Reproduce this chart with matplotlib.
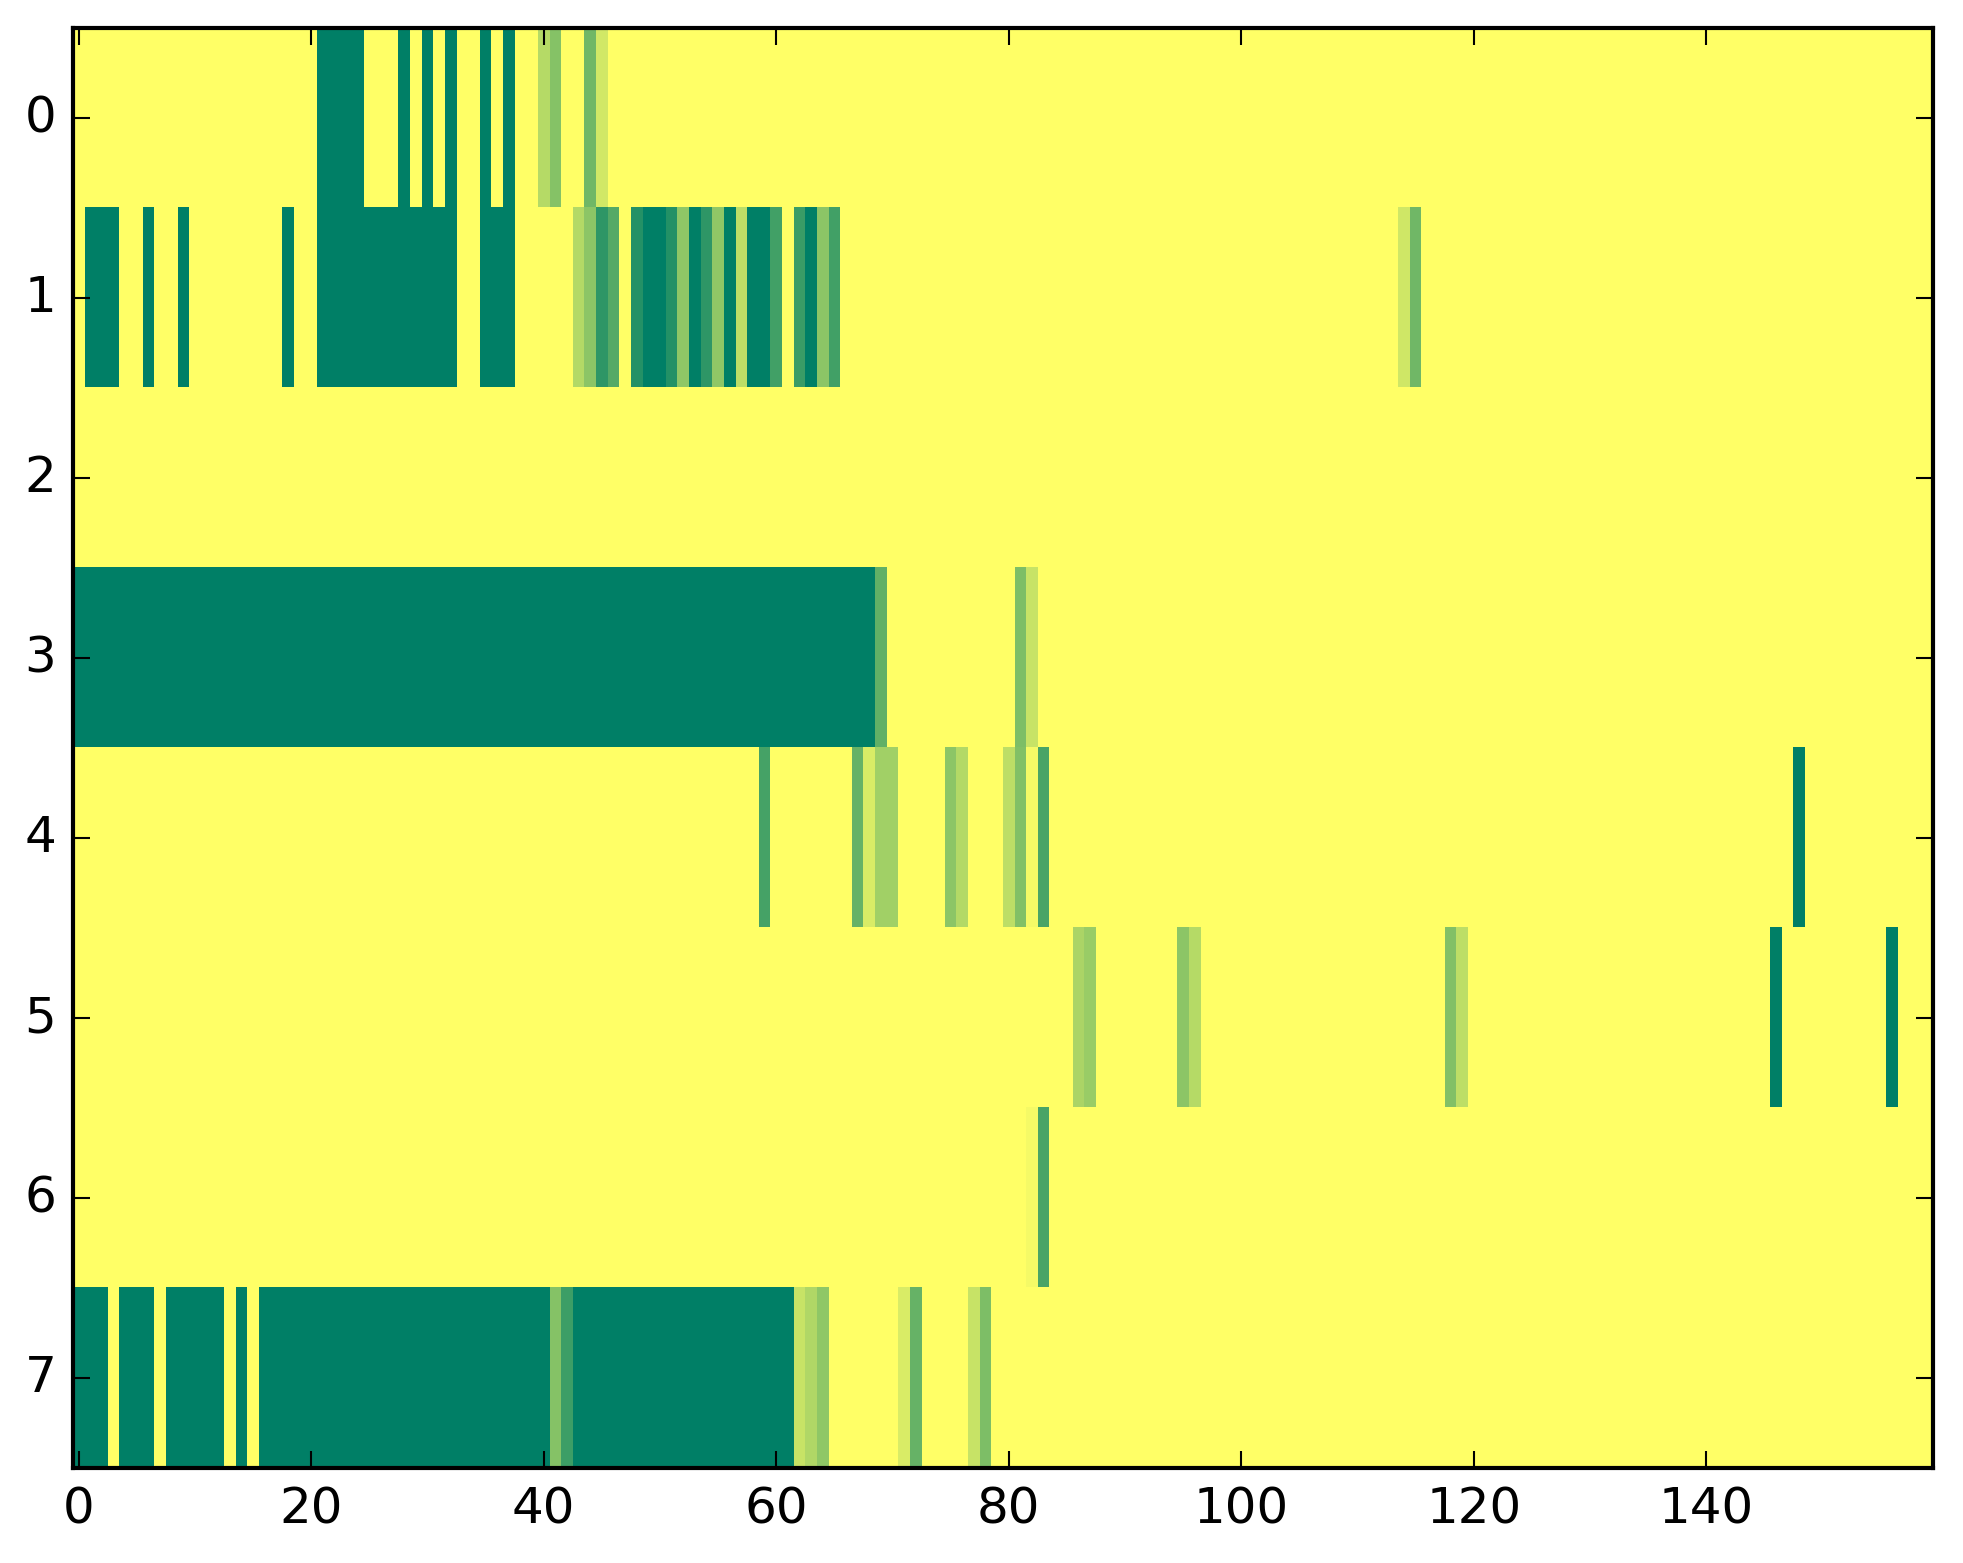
import numpy as np
import matplotlib
matplotlib.use("Agg")
import matplotlib.pyplot as plt

plt.style.use("classic")

n_cols = 160
n_rows = 8

# runs of (first column, last column, value); every other cell is 1.0
row0 = [(21, 24, 0.0), (28, 28, 0.0), (30, 30, 0.0), (32, 32, 0.0), (35, 35, 0.0),
        (37, 37, 0.0), (40, 40, 0.71), (41, 41, 0.52), (44, 44, 0.44), (45, 45, 0.82)]
row1 = [(1, 3, 0.0), (6, 6, 0.0), (9, 9, 0.0), (18, 18, 0.0), (21, 32, 0.0), (35, 37, 0.0),
        (43, 43, 0.70), (44, 44, 0.55), (45, 45, 0.18), (46, 46, 0.33), (48, 48, 0.14),
        (49, 50, 0.0), (51, 51, 0.14), (52, 52, 0.56), (53, 53, 0.0), (54, 54, 0.18),
        (55, 55, 0.56), (56, 56, 0.0), (57, 57, 0.74), (58, 59, 0.0), (60, 60, 0.26),
        (62, 62, 0.23), (63, 63, 0.0), (64, 64, 0.55), (65, 65, 0.26),
        (114, 114, 0.81), (115, 115, 0.44)]
row2 = []
row3 = [(0, 68, 0.0), (69, 69, 0.38), (81, 81, 0.49), (82, 82, 0.78)]
row4 = [(59, 59, 0.27), (67, 67, 0.40), (68, 68, 0.85), (69, 70, 0.63), (75, 75, 0.55),
        (76, 76, 0.70), (80, 80, 0.74), (81, 81, 0.51), (82, 82, 0.96), (83, 83, 0.29),
        (148, 148, 0.0)]
row5 = [(86, 86, 0.67), (87, 87, 0.60), (95, 95, 0.55), (96, 96, 0.71), (118, 118, 0.51),
        (119, 119, 0.74), (146, 146, 0.0), (156, 156, 0.0)]
row6 = [(82, 82, 0.96), (83, 83, 0.29)]
row7 = [(0, 2, 0.0), (4, 6, 0.0), (8, 12, 0.0), (14, 14, 0.0), (16, 40, 0.0),
        (41, 41, 0.52), (42, 42, 0.24), (43, 61, 0.0), (62, 62, 0.78), (63, 63, 0.69),
        (64, 64, 0.56), (71, 71, 0.85), (72, 72, 0.40), (77, 77, 0.78), (78, 78, 0.49)]

rows = [row0, row1, row2, row3, row4, row5, row6, row7]

data = np.ones((n_rows, n_cols))
for r, runs in enumerate(rows):
    for a, b, v in runs:
        data[r, a:b + 1] = v

fig = plt.figure(figsize=(1963 / 300, 1564 / 300), dpi=300, facecolor="white")
ax = fig.add_axes([73 / 1963, 95.5 / 1564, 1860 / 1963, 1440 / 1564])

ax.imshow(data, cmap="summer", vmin=0, vmax=1, aspect="auto", interpolation="nearest")

ax.set_xticks(np.arange(0, 141, 20))
ax.set_yticks(np.arange(0, 8))
ax.set_xlim(-0.5, n_cols - 0.5)
ax.set_ylim(n_rows - 0.5, -0.5)

fig.savefig("out.png", dpi=300, facecolor="white")
